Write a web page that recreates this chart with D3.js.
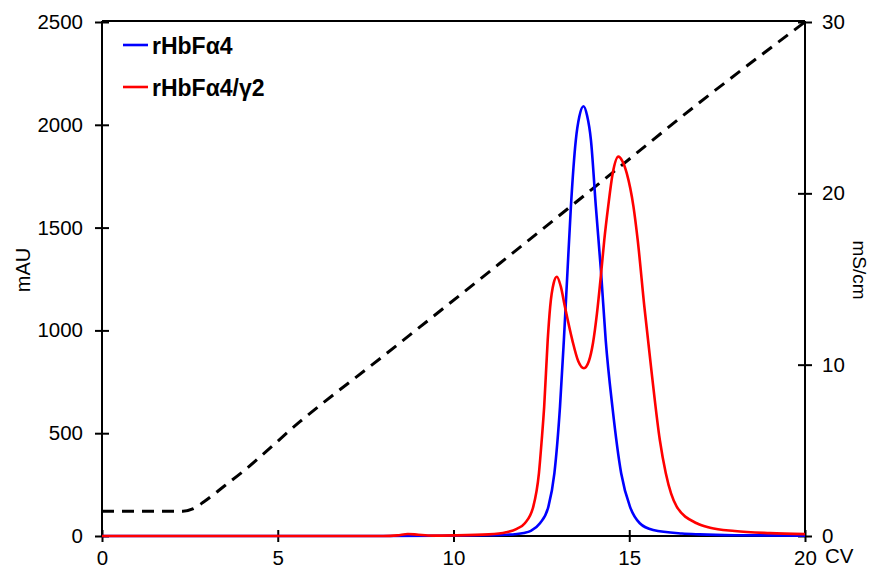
<!DOCTYPE html>
<html>
<head>
<meta charset="utf-8">
<script src="https://cdn.jsdelivr.net/npm/d3@7"></script>
<style>
  body { margin: 0; background: white; }
  text { font-family: "Liberation Sans", Arial, sans-serif; }
</style>
</head>
<body>
<script>

// Chromatogram data
var cvTicks = [0, 5, 10, 15, 20];
var mauTicks = [0, 500, 1000, 1500, 2000, 2500];
var condTicks = [0, 10, 20, 30];

// rHbFα4 absorbance [CV, mAU]
var blueData = [
  [0, 0], [8, 0], [10, 2], [11, 4], [11.5, 6], [12, 15], [12.2, 25], [12.46, 62],
  [12.7, 143], [12.87, 305], [13.03, 629], [13.14, 953], [13.24, 1278], [13.34, 1602],
  [13.48, 1926], [13.58, 2040], [13.7, 2090], [13.8, 2045], [13.91, 1926], [14.05, 1602],
  [14.2, 1278], [14.33, 953], [14.52, 629], [14.77, 305], [15.02, 143], [15.3, 62],
  [15.68, 29], [16.5, 12], [17, 8], [18, 4], [20, 2]
];

// rHbFα4/γ2 absorbance [CV, mAU]
var redData = [
  [0, 0], [8, 0], [8.4, 3], [8.7, 10], [9.0, 6], [9.4, 2], [10, 3], [11, 8],
  [11.5, 18], [11.8, 35], [12.03, 62], [12.27, 143], [12.43, 305], [12.51, 467],
  [12.58, 629], [12.68, 953], [12.75, 1115], [12.85, 1230], [12.94, 1261], [13.05, 1215],
  [13.17, 1115], [13.38, 953], [13.55, 850], [13.71, 816], [13.85, 850], [13.97, 940],
  [14.08, 1080], [14.2, 1278], [14.29, 1440], [14.4, 1602], [14.53, 1764], [14.69, 1845],
  [14.8, 1825], [14.93, 1764], [15.12, 1602], [15.24, 1440], [15.43, 1115], [15.64, 791],
  [15.87, 467], [16.04, 305], [16.35, 143], [16.92, 62], [17.3, 40], [18, 24],
  [19, 14], [20, 9]
];

// conductivity [CV, mS/cm]
var condData = [
  [0, 1.45], [2.3, 1.45], [2.6, 1.6], [2.9, 2.0], [3.5, 2.95], [4, 3.75],
  [5.63, 6.67], [8, 10.5], [11.32, 15.92], [14.16, 20.6], [17, 25.3], [20, 30]
];

var legendItems = [
  {name: "rHbFα4", color: "#0000ff"},
  {name: "rHbFα4/γ2", color: "#ff0000"}
];

var svg_width = 870, svg_height = 569;
var margin = {top: 22, left: 102, right: 65, bottom: 33};
var plot_width = svg_width - margin.left - margin.right;
var plot_height = svg_height - margin.top - margin.bottom;

var svg = d3.select("body").append("svg")
            .attr("width", svg_width)
            .attr("height", svg_height);

var chartGroup = svg.append("g")
                    .attr("transform", "translate(" + margin.left + "," + margin.top + ")");

// Scales
var xScale = d3.scaleLinear().domain([0, 20]).range([0, plot_width]);
var yScale = d3.scaleLinear().domain([0, 2500]).range([plot_height, 0]);
var y2Scale = d3.scaleLinear().domain([0, 30]).range([plot_height, 0]);

// Top border
chartGroup.append("line")
          .attr("x1", 0).attr("x2", plot_width)
          .attr("y1", -1).attr("y2", -1)
          .style("stroke", "black").style("stroke-width", 2);

// Axes
var xAxis = d3.axisBottom(xScale).tickValues(cvTicks).tickFormat(d3.format("d"))
              .tickSize(6).tickPadding(8);
var yAxis = d3.axisLeft(yScale).tickValues(mauTicks).tickFormat(d3.format("d"))
              .tickSize(7).tickPadding(12);
var y2Axis = d3.axisRight(y2Scale).tickValues(condTicks).tickFormat(d3.format("d"))
               .tickSize(7).tickPadding(10);

var gx = chartGroup.append("g")
                   .attr("transform", "translate(0," + plot_height + ")")
                   .call(xAxis);
gx.selectAll(".tick line").attr("y1", -6).attr("y2", 6);

var gy = chartGroup.append("g").call(yAxis);
gy.selectAll(".tick line").attr("x1", 7).attr("x2", -7);

var gy2 = chartGroup.append("g")
                    .attr("transform", "translate(" + plot_width + ",0)")
                    .call(y2Axis);
gy2.selectAll(".tick line").attr("x1", -7).attr("x2", 7);

[gx, gy, gy2].forEach(function(g)
{
  g.select(".domain").remove();
  g.selectAll(".tick line").style("stroke", "black").style("stroke-width", 2);
  g.selectAll("text")
   .style("font-family", "Liberation Sans, Arial, sans-serif")
   .style("font-size", "20.5px")
   .style("fill", "black");
});

// Axis lines
chartGroup.append("line").attr("x1", 0).attr("x2", 0).attr("y1", -1).attr("y2", plot_height)
          .style("stroke", "black").style("stroke-width", 2);
chartGroup.append("line").attr("x1", plot_width).attr("x2", plot_width).attr("y1", -1).attr("y2", plot_height)
          .style("stroke", "black").style("stroke-width", 2);
chartGroup.append("line").attr("x1", 0).attr("x2", plot_width).attr("y1", plot_height).attr("y2", plot_height)
          .style("stroke", "black").style("stroke-width", 2);

// Lines
var mauLine = d3.line()
                .x(function(d) { return xScale(d[0]); })
                .y(function(d) { return yScale(d[1]); })
                .curve(d3.curveMonotoneX);

var condLine = d3.line()
                 .x(function(d) { return xScale(d[0]); })
                 .y(function(d) { return y2Scale(d[1]); })
                 .curve(d3.curveMonotoneX);

chartGroup.append("path").datum(condData)
          .attr("d", condLine)
          .style("fill", "none").style("stroke", "black")
          .style("stroke-width", 3).style("stroke-dasharray", "12,8");

chartGroup.append("path").datum(blueData)
          .attr("d", mauLine)
          .style("fill", "none").style("stroke", legendItems[0].color)
          .style("stroke-width", 2.6);

chartGroup.append("path").datum(redData)
          .attr("d", mauLine)
          .style("fill", "none").style("stroke", legendItems[1].color)
          .style("stroke-width", 2.6);

// Axis titles
svg.append("text")
   .attr("transform", "translate(30,270) rotate(-90)")
   .attr("text-anchor", "middle")
   .style("font-size", "20px")
   .text("mAU");

svg.append("text")
   .attr("transform", "translate(853,270) rotate(90)")
   .attr("text-anchor", "middle")
   .style("font-size", "19px")
   .text("mS/cm");

svg.append("text")
   .attr("x", 825).attr("y", 563)
   .style("font-size", "20.5px")
   .text("CV");

// Legend
var legend = svg.append("g").attr("transform", "translate(123,45)");
legendItems.forEach(function(item, i)
{
  var row = legend.append("g").attr("transform", "translate(0," + (i * 42) + ")");
  row.append("line").attr("x1", 0).attr("x2", 25).attr("y1", 0).attr("y2", 0)
     .style("stroke", item.color).style("stroke-width", 2.6);
  row.append("text").attr("x", 29).attr("y", 9)
     .style("font-size", "23px").style("font-weight", "bold")
     .text(item.name);
});

</script>
</body>
</html>
